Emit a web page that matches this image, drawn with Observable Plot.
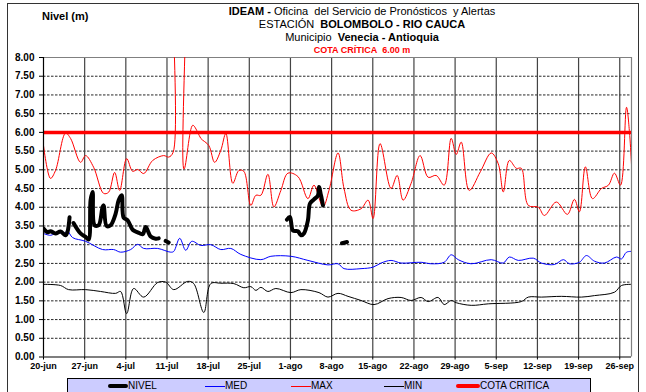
<!DOCTYPE html>
<html><head><meta charset="utf-8">
<script src="https://cdn.jsdelivr.net/npm/d3@7"></script>
<script src="https://cdn.jsdelivr.net/npm/@observablehq/plot@0.6"></script>
<style>
body{margin:0;background:#fff;font-family:'Liberation Sans',Arial,sans-serif;}
#wrap{position:relative;width:646px;height:392px;overflow:hidden;}
#border{position:absolute;left:7px;top:3px;width:632px;height:400px;border:1px solid #333;box-sizing:border-box;}
#ylab{position:absolute;left:42px;top:10px;font-size:11px;font-weight:bold;}
#title{position:absolute;left:162px;width:400px;top:5px;text-align:center;font-size:11px;line-height:13px;color:#000;}
#title .crit{color:#ff0000;font-weight:bold;font-size:9px;line-height:12px;}
#chart{position:absolute;left:0;top:0;}
#legend{position:absolute;left:67px;top:378px;width:524px;height:20px;background:#ccccff;border:1px solid #000;box-sizing:border-box;font-size:10px;}
.it{position:absolute;top:1px;height:12px;line-height:12px;}
.sw{position:absolute;}
</style></head>
<body>
<div id="wrap">
<div id="chart"></div>
<div id="border"></div>
<div id="ylab">Nivel (m)</div>
<div id="title">
<div><b>IDEAM -</b> Oficina&nbsp; del Servicio de Pronósticos&nbsp; y Alertas</div>
<div>ESTACIÓN&nbsp; <b>BOLOMBOLO - RIO CAUCA</b></div>
<div>Municipio&nbsp; <b>Venecia - Antioquia</b></div>
<div class="crit">COTA CRÍTICA&nbsp; 6.00 m</div>
</div>
<div id="legend"></div>
</div>
<script>
// ---- data (day offsets from 20-jun, values in m) ----
const maxDays = [0,1.19,2.04,3.75,4.6,6.3,7.16,8.52,10.22,11.07,12.1,12.95,14.14,15.16,16.01,17.04,18.57,20.44,21.29,22.05,22.35,23.55,23.9,25.38,26.24,26.75,28.11,29.1,30.15,31.01,32.2,33.22,34.07,35.26,36.12,36.97,38.16,39.18,40.37,41.57,43.27,44.97,46.0,47.53,48.55,50.09,51.11,52.3,54.0,55.2,56.05,57.24,59.11,60.14,61.16,62.52,64.05,65.42,66.78,68.14,69.34,70.19,71.04,72.4,74.3,76.15,77.34,78.19,79.22,80.41,81.26,82.45,84.16,85.18,87.22,89.1,90.29,91.14,92.16,93.36,94.89,96.08,97.1,98.13,99.15,99.66,100.2];
const maxVals = [5.65,4.77,4.98,5.98,5.84,5.20,5.38,5.07,4.37,4.40,4.93,4.45,5.30,4.96,5.01,4.90,5.25,5.38,5.34,5.47,14,14,5.02,6.19,6.00,5.84,5.65,5.20,5.52,5.97,4.64,4.98,4.96,4.05,4.32,4.32,4.88,4.01,4.45,4.91,4.82,4.23,4.59,4.01,4.45,5.45,4.50,3.92,3.96,4.19,3.70,5.70,4.50,4.85,4.19,4.64,5.38,4.80,4.85,4.59,5.84,5.41,5.74,4.45,4.95,5.45,5.16,4.41,5.25,5.04,5.04,4.05,4.00,3.78,4.14,3.81,4.21,3.88,5.08,4.23,4.50,4.59,4.91,4.59,6.67,6.00,4.50];

const medDays = [0,1.19,2.39,3.41,4.09,4.94,7.16,10.05,11.93,13.12,14.82,16.01,17.04,19.42,21.64,22.15,23.17,24.19,25.21,26.75,28.45,30.15,31.86,33.56,36.97,38.67,42.08,44.97,48.38,50.09,51.11,54.0,56.05,57.41,59.11,60.82,64.22,65.93,68.14,69.34,70.53,72.74,76.15,78.19,79.22,80.75,83.3,84.67,86.88,88.42,89.44,91.14,92.33,93.7,95.4,97.44,98.3,99.15,100.3];
const medVals = [3.30,3.25,3.33,3.30,3.36,3.19,3.09,2.87,2.87,2.80,2.87,3.01,2.90,2.90,2.80,2.82,3.17,2.85,3.09,2.98,3.00,2.87,2.90,2.74,2.60,2.69,2.69,2.58,2.46,2.49,2.36,2.36,2.40,2.51,2.58,2.51,2.53,2.49,2.53,2.73,2.60,2.49,2.60,2.51,2.67,2.58,2.64,2.51,2.47,2.60,2.49,2.53,2.71,2.56,2.51,2.67,2.62,2.80,2.82];

const minDays = [0,2.9,4.26,7.16,9.71,12.27,13.12,14.14,15.33,17.04,19.42,20.78,22.15,24.53,25.55,27.26,28.45,30.15,32.37,34.07,35.26,36.12,36.97,38.16,39.52,42.08,43.78,46.85,48.38,50.09,51.79,54.0,56.22,58.6,60.82,62.52,64.22,65.42,67.12,68.14,69.34,70.19,72.74,75.64,81.26,82.45,84.67,88.07,91.48,93.7,97.1,98.3,100.3];
const minVals = [1.94,1.91,1.80,1.80,1.75,1.70,1.75,1.16,1.83,1.60,1.99,2.00,1.80,2.02,1.96,1.19,1.96,1.97,1.96,1.85,1.88,1.78,1.86,1.75,1.83,1.72,1.80,1.72,1.60,1.70,1.62,1.51,1.40,1.56,1.59,1.51,1.59,1.48,1.59,1.40,1.51,1.45,1.38,1.42,1.48,1.60,1.60,1.62,1.60,1.64,1.73,1.91,1.94];

// null marks a gap in the record
const nivelDays = [0,0.68,1.19,2.04,2.9,3.75,4.09,4.43,null,5.1,6.3,7.16,7.67,8.01,8.35,8.69,9.37,10.05,10.22,10.73,11.41,12.27,12.78,13.29,13.63,14.31,15.16,16.01,16.87,17.38,18.23,19.08,19.59,null,20.78,21.29,null,41.4,41.91,42.42,43.27,43.78,44.29,44.97,45.32,46.0,46.68,46.85,47.19,47.53,null,50.77,51.62];
const nivelVals = [3.43,3.33,3.36,3.30,3.35,3.25,3.35,3.73,null,3.58,3.30,3.21,3.14,4.19,4.41,3.52,3.52,4.01,4.05,3.50,3.52,3.83,4.19,4.32,3.72,3.65,3.40,3.33,3.28,3.47,3.22,3.16,3.17,null,3.10,3.06,null,3.67,3.74,3.38,3.36,3.25,3.30,3.65,4.10,4.21,4.32,4.54,4.32,4.05,null,3.04,3.07];

const cotaCritica = 6.00;
const yTicks = [0,0.5,1,1.5,2,2.5,3,3.5,4,4.5,5,5.5,6,6.5,7,7.5,8];
const xTickDays = [0,7,14,21,28,35,42,49,56,63,70,77,84,91,98];
const xTickLabels = ["20-jun","27-jun","4-jul","11-jul","18-jul","25-jul","1-ago","8-ago","15-ago","22-ago","29-ago","5-sep","12-sep","19-sep","26-sep"];
const legendNames = ["NIVEL","MED","MAX","MIN","COTA CRITICA"];
const legendColors = ["#000000","#0000ff","#ff0000","#000000","#ff0000"];
const legendWidths = [4,1,1,1,4];

// ---- build ----
const base = Date.UTC(2014, 5, 20);
const toDate = d => new Date(base + d * 864e5);
const rows = (days, vals) => days.map((d, i) => ({x: toDate(d == null ? 0 : d), y: vals[i] == null ? NaN : vals[i]}));
const xTicks = xTickDays.map(toDate);
const labelOf = new Map(xTicks.map((d, i) => [+d, xTickLabels[i]]));
const xEnd = toDate(100);

const chart = Plot.plot({
  width: 646, height: 392,
  marginTop: 57, marginLeft: 43, marginRight: 15, marginBottom: 35.5,
  style: {fontFamily: "'Liberation Sans', Arial, sans-serif", background: "transparent", color: "#000"},
  x: {type: "utc", domain: [toDate(0), xEnd]},
  y: {domain: [0, 8]},
  marks: [
    Plot.ruleY(yTicks.filter(v => v > 0 && v < 8), {stroke: "#000", strokeDasharray: "2.5,1.5", strokeWidth: 1, strokeOpacity: 0.85}),
    Plot.ruleX(xTicks.slice(1), {stroke: "#444", strokeWidth: 1.2}),
    Plot.ruleY([8], {stroke: "#808080", strokeWidth: 1.2}),
    Plot.ruleX([xEnd], {stroke: "#808080", strokeWidth: 1.2}),
    Plot.line(rows(minDays, minVals), {x: "x", y: "y", stroke: "#000", strokeWidth: 1, curve: "catmull-rom", clip: true}),
    Plot.line(rows(medDays, medVals), {x: "x", y: "y", stroke: "#0000ff", strokeWidth: 1, curve: "catmull-rom", clip: true}),
    Plot.line(rows(maxDays, maxVals), {x: "x", y: "y", stroke: "#ff0000", strokeWidth: 1, curve: "catmull-rom", clip: true}),
    Plot.ruleY([cotaCritica], {stroke: "#ff0000", strokeWidth: 3.5}),
    Plot.line(rows(nivelDays, nivelVals), {x: "x", y: "y", stroke: "#000", strokeWidth: 4, curve: "catmull-rom", strokeLinejoin: "round", strokeLinecap: "round", clip: true}),
    Plot.ruleX([toDate(0)], {stroke: "#000", strokeWidth: 1.2}),
    Plot.ruleY([0], {stroke: "#000", strokeWidth: 1.2}),
    Plot.axisY({ticks: yTicks, tickFormat: d => d.toFixed(2), tickSize: 4, tickPadding: 5, fontSize: 10, fontWeight: "bold", label: null}),
    Plot.axisX({ticks: xTicks, tickFormat: d => labelOf.get(+d), tickSize: 3, tickPadding: 3, fontSize: 9, fontWeight: "bold", label: null})
  ]
});
document.getElementById("chart").appendChild(chart);

// legend
const lg = document.getElementById("legend");
const swX = [40, 137, 223, 316, 388];
legendNames.forEach((n, i) => {
  const sw = document.createElement("div");
  sw.className = "sw";
  const w = (i === 4) ? 24 : 20;
  sw.style.left = swX[i] + "px";
  sw.style.width = w + "px";
  sw.style.top = (7 - legendWidths[i] / 2) + "px";
  sw.style.height = legendWidths[i] + "px";
  sw.style.background = legendColors[i];
  if (legendWidths[i] > 1) sw.style.borderRadius = "2px";
  lg.appendChild(sw);
  const t = document.createElement("div");
  t.className = "it";
  t.style.left = (swX[i] + w) + "px";
  t.textContent = n;
  lg.appendChild(t);
});
</script>
</body></html>
